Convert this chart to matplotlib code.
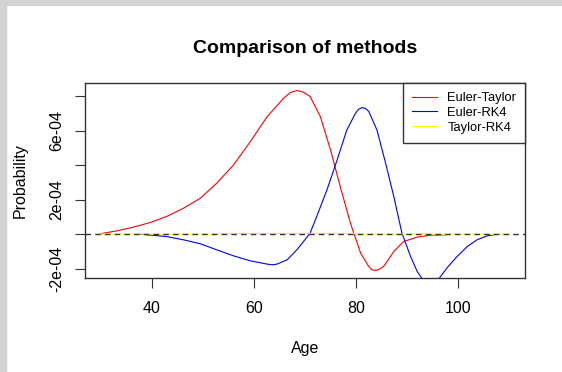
import matplotlib
matplotlib.use("Agg")
import matplotlib.pyplot as plt
from matplotlib.patches import Rectangle

plt.rcParams["font.family"] = ["Liberation Sans", "DejaVu Sans"]

# Euler-Taylor difference (age, value in 1e-4)
et_age = [30.0, 30.2, 33.1, 36.4, 39.7, 42.9, 46.2, 49.5, 52.7, 56.0, 59.3, 62.6,
          65.8, 67.1, 68.4, 69.7, 71.0, 73.0, 75.0, 76.9, 78.9, 80.9, 82.5, 83.1,
          83.8, 84.6, 85.4, 87.4, 89.3, 92.0, 94.6, 97.5]
et_val = [0.0, 0.04, 0.19, 0.41, 0.68, 1.03, 1.51, 2.09, 2.96, 4.02, 5.38, 6.83,
          7.89, 8.22, 8.34, 8.24, 7.99, 6.83, 4.89, 2.77, 0.64, -1.10, -1.88, -2.07,
          -2.11, -2.03, -1.88, -1.01, -0.43, -0.17, -0.06, -0.04]

# Euler-RK4 difference
er_age = [37.7, 42.9, 46.2, 49.5, 52.7, 56.0, 59.3, 62.6, 63.5, 64.5, 66.5, 68.4,
          69.7, 71.0, 72.3, 74.3, 76.3, 78.2, 79.9, 80.5, 81.2, 81.9, 82.5, 84.1,
          85.8, 87.4, 89.0, 90.7, 92.0, 93.0, 94.0, 94.6, 95.3, 96.2, 97.8, 99.8,
          101.8, 103.7, 105.7, 107.3]
er_val = [0.0, -0.14, -0.33, -0.56, -0.91, -1.26, -1.55, -1.74, -1.78, -1.74, -1.49, -0.91,
          -0.43, 0.06, 1.03, 2.57, 4.31, 6.05, 7.02, 7.25, 7.35, 7.29, 7.12, 6.05,
          4.12, 2.19, 0.06, -1.30, -2.17, -2.61, -2.92, -2.98, -2.90, -2.61, -1.97, -1.30,
          -0.72, -0.33, -0.10, -0.02]

# Taylor-RK4 difference
tr_age = [30.0, 52.0, 54.1, 60.0, 70.0, 79.5, 81.0, 110.0]
tr_val = [0.0, 0.0, 0.04, 0.04, 0.04, 0.04, 0.0, 0.0]

W, H = 562, 372
fig = plt.figure(figsize=(W / 100, H / 100), dpi=100)
fig.patches.append(Rectangle((0, 0), 6 / W, 1, transform=fig.transFigure,
                             color="#d4d4d4", zorder=0))
fig.patches.append(Rectangle((0, 1 - 5 / H), 1, 5 / H, transform=fig.transFigure,
                             color="#d4d4d4", zorder=0))

ax = fig.add_axes([84.6 / W, 1 - 277.7 / H, (525.4 - 84.6) / W, (277.7 - 83.3) / H])

scale = 1e-4
ax.plot(et_age, [v * scale for v in et_val], color="#ff0000", lw=0.8, label="Euler-Taylor")
ax.plot(er_age, [v * scale for v in er_val], color="#0000ff", lw=0.8, label="Euler-RK4")
ax.plot(tr_age, [v * scale for v in tr_val], color="#ffff00", lw=0.8, label="Taylor-RK4")
ax.axhline(0, color="#333333", lw=1.0, ls=(0, (4, 3)))

# R-style limits: 4% padding around the data range
xlo, xhi = 30, 110
xr = xhi - xlo
ax.set_xlim(xlo - 0.04 * xr, xhi + 0.04 * xr)
ylo, yhi = min(et_val) * scale, max(et_val) * scale
yr = yhi - ylo
ax.set_ylim(ylo - 0.04 * yr, yhi + 0.04 * yr)

ax.set_xticks([40, 60, 80, 100])
yt = [-2e-4, 0, 2e-4, 4e-4, 6e-4, 8e-4]
ax.set_yticks(yt)
ax.set_yticklabels(["-2e-04", "", "2e-04", "", "6e-04", ""], rotation=90, va="center")

ax.tick_params(axis="both", direction="out", length=7, width=0.8, labelsize=11.5,
               color="#333333")
ax.tick_params(axis="x", pad=10)
ax.tick_params(axis="y", pad=8)
for s in ax.spines.values():
    s.set_color("#333333")
    s.set_linewidth(1.0)

ax.set_title("Comparison of methods", fontsize=14, fontweight="bold", pad=22)
ax.set_xlabel("Age", fontsize=11.5, labelpad=18)
ax.set_ylabel("Probability", fontsize=11.5, labelpad=15)

leg = ax.legend(loc="upper right", bbox_to_anchor=(1, 1), borderaxespad=0,
                fontsize=9.3, fancybox=False, edgecolor="#333333", framealpha=1,
                handlelength=1.9, handletextpad=0.8, labelspacing=0.2,
                borderpad=0.7)
leg.get_frame().set_linewidth(1.0)

fig.savefig("out.png", dpi=100)
